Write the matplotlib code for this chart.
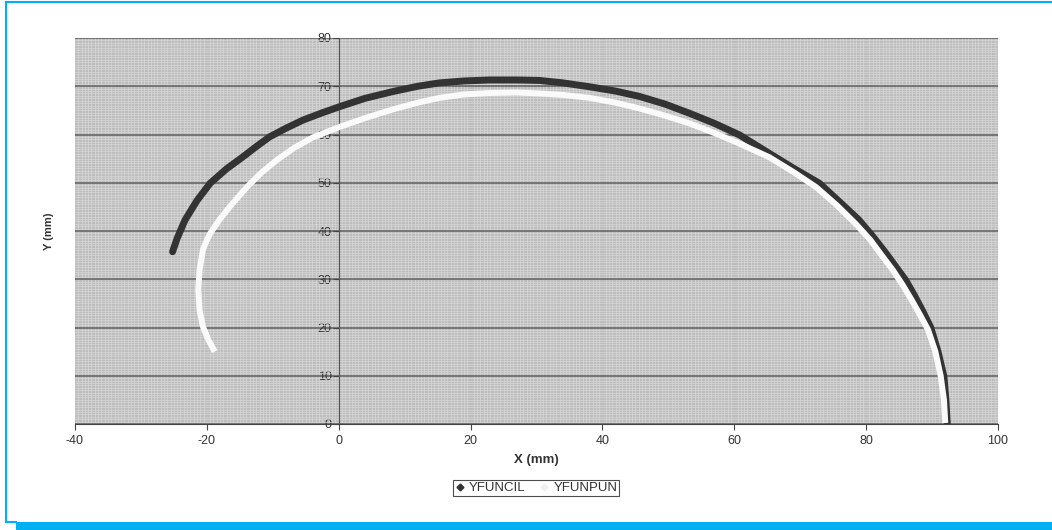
import matplotlib.pyplot as plt
from matplotlib.lines import Line2D
from matplotlib.patches import Rectangle
from matplotlib.ticker import MultipleLocator

plt.rcParams['font.family'] = ['Liberation Sans', 'DejaVu Sans']
plt.rcParams['axes.unicode_minus'] = False

# pencil trace (YFUNCIL)
x_cil = [-25.2, -24.5, -23.3, -21.5, -19.5, -17.0, -14.5, -12.5, -10.5, -8.0, -5.4,
         -2.5, 0.2, 4.0, 8.2, 12.0, 15.3, 19.0, 22.9, 27.0, 30.5, 34.0, 38.0, 42.0,
         45.6, 49.5, 53.2, 57.0, 60.8, 65.3, 69.0, 72.9, 76.0, 78.9, 81.0, 83.0,
         84.5, 86.0, 87.3, 88.5, 89.8, 90.9, 91.8, 92.1, 92.3]
y_cil = [35.7, 38.5, 42.3, 46.3, 49.9, 52.9, 55.4, 57.5, 59.5, 61.3, 63.0,
         64.5, 65.8, 67.5, 68.9, 70.0, 70.7, 71.1, 71.3, 71.3, 71.2, 70.7, 69.9, 69.0,
         67.9, 66.3, 64.4, 62.3, 59.9, 56.1, 53.0, 49.9, 46.0, 42.3, 38.9, 35.4,
         32.6, 29.8, 26.7, 23.6, 20.0, 15.0, 9.8, 5.0, 0.1]

# point trace (YFUNPUN)
x_pun = [-18.8, -19.8, -20.6, -21.1, -21.3, -21.1, -20.6, -20.1, -19.5, -18.0, -16.3,
         -14.0, -11.8, -9.4, -6.8, -3.9, 0.2, 4.0, 8.2, 12.0, 15.3, 19.0, 22.9, 27.0,
         30.5, 34.0, 38.0, 42.0, 45.6, 49.5, 53.2, 57.0, 60.8, 65.3, 69.0, 72.4, 75.5,
         78.4, 80.6, 82.5, 84.1, 85.5, 86.9, 88.1, 89.4, 90.5, 91.3, 91.8, 92.0]
y_pun = [15.0, 17.5, 20.2, 23.5, 27.8, 32.0, 36.1, 37.8, 39.5, 42.5, 45.4,
         49.0, 52.0, 54.7, 57.2, 59.4, 61.6, 63.4, 65.2, 66.6, 67.6, 68.3, 68.6, 68.7,
         68.5, 68.2, 67.6, 66.6, 65.4, 63.9, 62.3, 60.3, 58.1, 55.3, 52.2, 49.1, 45.4,
         41.5, 38.2, 34.7, 31.8, 28.9, 25.7, 22.8, 19.5, 15.0, 10.0, 5.0, 0.2]

x_ticks = [-40, -20, 0, 20, 40, 60, 80, 100]
y_ticks = [0, 10, 20, 30, 40, 50, 60, 70, 80]

fig = plt.figure(figsize=(10.52, 5.30), dpi=100)
ax = fig.add_axes([75 / 1052, 106 / 530, 923 / 1052, 386 / 530])
ax.set_facecolor('#bdbdbd')

ax.plot(x_cil, y_cil, color='#333333', lw=5, solid_capstyle='round',
        solid_joinstyle='round', zorder=3)
ax.plot(x_pun, y_pun, color='#fafafa', lw=4.3, solid_capstyle='butt',
        solid_joinstyle='round', zorder=4)

ax.set_xlim(-40, 100)
ax.set_ylim(0, 80)
ax.set_xticks(x_ticks)
ax.set_yticks(y_ticks)

# fine background grid and major horizontal lines
ax.xaxis.set_minor_locator(MultipleLocator(0.5))
ax.yaxis.set_minor_locator(MultipleLocator(0.5))
ax.grid(which='minor', color='#dadada', lw=0.45, zorder=0)
ax.grid(which='major', axis='y', color='#606060', lw=1.1, zorder=1)
ax.tick_params(which='minor', length=0)
ax.set_axisbelow(True)

for side in ['top', 'right']:
    ax.spines[side].set_visible(False)
ax.spines['left'].set_position(('data', 0))
ax.spines['left'].set_color('#555555')
ax.spines['left'].set_zorder(2)
ax.spines['bottom'].set_color('#444444')

ax.tick_params(axis='both', which='major', labelsize=9, labelcolor='#333333',
               color='#444444', length=4, width=0.8)
ax.tick_params(axis='y', pad=1)
ax.tick_params(axis='x', pad=4)

ax.set_xlabel('X (mm)', fontsize=9.5, fontweight='bold', color='#333333', labelpad=5)
fig.text(49 / 1052, (530 - 231) / 530, 'Y (mm)', fontsize=8, fontweight='bold',
         color='#333333', rotation=90, ha='center', va='center')

handles = [Line2D([], [], ls='none', marker='D', markersize=3.5, color='#333333'),
           Line2D([], [], ls='none', marker='D', markersize=3.5, color='#f0f0f0')]
leg = fig.legend(handles, ['YFUNCIL', 'YFUNPUN'], loc='center',
                 bbox_to_anchor=(536 / 1052, 42 / 530), ncol=2, fontsize=9.5,
                 frameon=True, fancybox=False, edgecolor='#222222',
                 handlelength=0.8, handletextpad=0.3, columnspacing=1.0,
                 borderpad=0.15, labelcolor='#333333')
leg.get_frame().set_linewidth(0.8)

# cyan page frame
blue = '#00b0f0'
fig.add_artist(Line2D([6 / 1052, 6 / 1052], [8 / 530, 528 / 530], color=blue, lw=1.5))
fig.add_artist(Line2D([6 / 1052, 1.0], [528 / 530, 528 / 530], color=blue, lw=1.5))
fig.add_artist(Line2D([6 / 1052, 16 / 1052], [8 / 530, 8 / 530], color=blue, lw=1.5))
fig.add_artist(Rectangle((16 / 1052, 0), 1 - 16 / 1052, 8 / 530, color=blue, lw=0))

fig.savefig('out.png', dpi=100)
